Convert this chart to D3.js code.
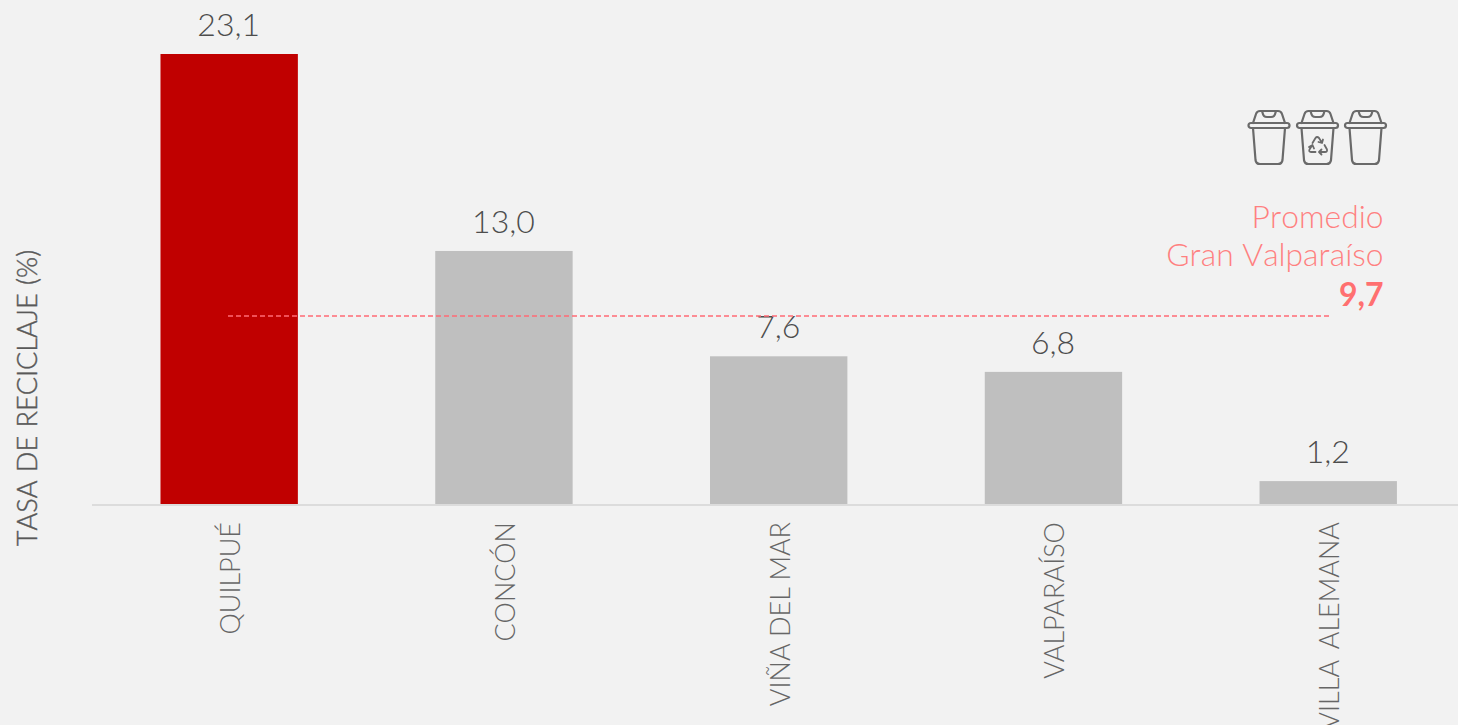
<!DOCTYPE html>
<html>
<head>
<meta charset="utf-8">
<script src="https://cdnjs.cloudflare.com/ajax/libs/d3/7.8.5/d3.min.js"></script>
<style>
  html, body { margin: 0; padding: 0; background: #f2f2f2; overflow: hidden; }
  svg { display: block; font-family: Lato, sans-serif; font-weight: 300; }
  .value { font-size: 32px; fill: #4d4d4d; text-anchor: middle; }
  .cat { font-size: 27px; fill: #666666; }
  .ytitle { font-size: 27.1px; fill: #595959; stroke: #595959; stroke-width: 0.4px; text-anchor: middle; word-spacing: 1px; font-kerning: none; }
  .avg { font-size: 31.8px; fill: #ff8080; text-anchor: end; font-kerning: none; }
  .avgval { font-size: 32px; fill: #ff7070; font-weight: 700; text-anchor: end; }
</style>
</head>
<body>
<div id="chart"></div>
<script>
var categories = ["QUILPUÉ", "CONCÓN", "VIÑA DEL MAR", "VALPARAÍSO", "VILLA ALEMANA"];
var values = [23.1, 13.0, 7.6, 6.8, 1.2];
var highlight = ["QUILPUÉ"];
var promedio = 9.7;
var promedioLabel = ["Promedio", "Gran Valparaíso"];
var yTitle = "TASA DE RECICLAJE (%)";

var width = 1458, height = 725;
var baseline = 504.5;

var fmt = function(v) { return v.toFixed(1).replace(".", ","); };

var svg = d3.select("#chart").append("svg")
    .attr("width", width)
    .attr("height", height);

var x = d3.scaleBand()
    .domain(categories)
    .range([91.8, 1465.6])
    .paddingInner(0.5)
    .paddingOuter(0.25);

var y = d3.scaleLinear().domain([0, 23.1]).range([baseline, 54]);

// bars
svg.selectAll(".bar")
    .data(values)
  .enter().append("rect")
    .attr("class", "bar")
    .attr("x", function(d, i) { return x(categories[i]); })
    .attr("y", function(d) { return y(d); })
    .attr("width", x.bandwidth())
    .attr("height", function(d) { return y(0) - y(d); })
    .attr("fill", function(d, i) { return highlight.indexOf(categories[i]) > -1 ? "#c00000" : "#bfbfbf"; });

// baseline
svg.append("line")
    .attr("x1", 92).attr("x2", width)
    .attr("y1", 505).attr("y2", 505)
    .attr("stroke", "#dcdcdc")
    .attr("stroke-width", 2);

// value labels
svg.selectAll(".value")
    .data(values)
  .enter().append("text")
    .attr("class", "value")
    .attr("x", function(d, i) { return x(categories[i]) + x.bandwidth() / 2 - 0.5; })
    .attr("y", function(d) { return y(d) - 18; })
    .text(fmt);

// category labels, rotated
svg.selectAll(".cat")
    .data(categories)
  .enter().append("text")
    .attr("class", "cat")
    .attr("text-anchor", "end")
    .attr("transform", function(d) {
      return "translate(" + (x(d) + x.bandwidth() / 2 + 11) + ",522) rotate(-90)";
    })
    .style("word-spacing", function(d) { return d == "VILLA ALEMANA" ? "5px" : null; })
    .text(function(d) { return d; });

// y title
svg.append("text")
    .attr("class", "ytitle")
    .attr("transform", "translate(37,398) rotate(-90)")
    .text(yTitle);

// average line
svg.append("line")
    .attr("x1", 228).attr("x2", 1330)
    .attr("y1", y(promedio) + 0.7).attr("y2", y(promedio) + 0.7)
    .attr("stroke", "#ff6b75")
    .attr("stroke-width", 1.6)
    .attr("stroke-dasharray", "5 3");

svg.selectAll(".avg")
    .data(promedioLabel)
  .enter().append("text")
    .attr("class", "avg")
    .attr("x", 1383.5)
    .attr("y", function(d, i) { return 228 + i * 38; })
    .text(function(d) { return d; });

svg.append("text")
    .attr("class", "avgval")
    .attr("x", 1383.5)
    .attr("y", 306)
    .text(fmt(promedio));

// bin icons
function bin(px, recycle) {
  var g = svg.append("g")
      .attr("transform", "translate(" + px + ",110)")
      .attr("fill", "none")
      .attr("stroke", "#6a6a6a")
      .attr("stroke-width", 2.2)
      .attr("stroke-linejoin", "round")
      .attr("stroke-linecap", "round");
  // lid
  g.append("path").attr("d", "M5,13 L8,4 Q9,1 12,1 L30,1 Q33,1 34,4 L37,13");
  g.append("path").attr("d", "M14,1 Q15,5 16,6 Q17,7 19,7 L23,7 Q25,7 26,6 Q27,5 28,1");
  g.append("rect").attr("x", 0.5).attr("y", 13).attr("width", 41).attr("height", 5).attr("rx", 2.5);
  // body
  g.append("path").attr("d", "M5,18 L7.5,50 Q8,54 12,54 L30,54 Q34,54 34.5,50 L37,18");
  if (recycle) {
    g.append("path")
      .attr("stroke-width", 1.8)
      .attr("d", "M16,33 L19,28 Q20.5,26 22.5,28 L25,32 M26.5,29.5 L25.5,33 L22,32 M28,35 L30.5,39.5 Q31,42 28.5,42 L23,42 M25,39.5 L22.5,42 L25,44.5 M19,42 L14.5,42 Q12,42 13,39.5 L15.5,35.5 M12.5,37 L16,35 L17.5,38.5");
  }
}
bin(1248, false);
bin(1296.5, true);
bin(1344.5, false);
</script>
</body>
</html>
